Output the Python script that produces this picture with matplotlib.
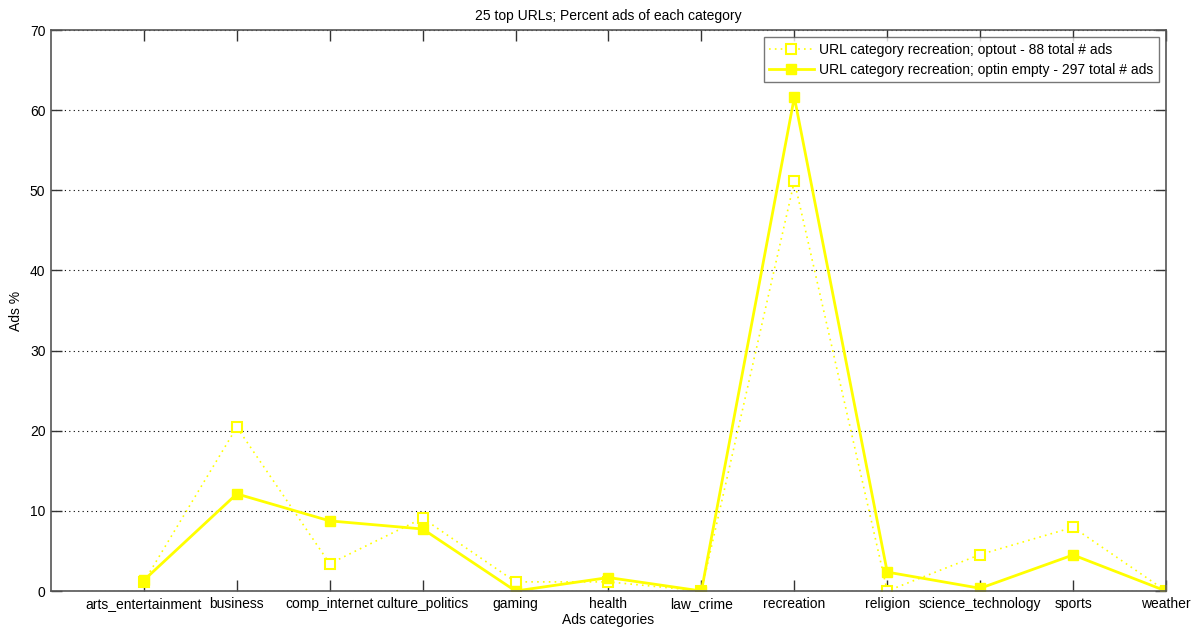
import matplotlib.pyplot as plt

plt.rcParams['font.family'] = ['Liberation Sans', 'DejaVu Sans']

# Ads categories and share of ads (%) per category
categories = ['arts_entertainment', 'business', 'comp_internet', 'culture_politics',
              'gaming', 'health', 'law_crime', 'recreation', 'religion',
              'science_technology', 'sports', 'weather']
optout_pct = [1.14, 20.45, 3.41, 9.09, 1.14, 1.14, 0.0, 51.14, 0.0, 4.55, 7.95, 0.0]
optin_pct = [1.35, 12.12, 8.75, 7.74, 0.0, 1.68, 0.0, 61.62, 2.36, 0.34, 4.50, 0.0]

optout_label = 'URL category recreation; optout - 88 total # ads'
optin_label = 'URL category recreation; optin empty - 297 total # ads'

x = list(range(1, len(categories) + 1))

fig = plt.figure(figsize=(11.97, 6.28), dpi=100)
ax = fig.add_axes([0.0426, 0.0589, 0.9315, 0.8933])

yellow = '#ffff00'
ax.plot(x, optout_pct, linestyle=(0, (1, 2.5)), lw=1.2, color=yellow,
        marker='s', markersize=7.5, markerfacecolor='white',
        markeredgecolor=yellow, markeredgewidth=1.5, label=optout_label)
ax.plot(x, optin_pct, linestyle='-', lw=2.0, color=yellow,
        marker='s', markersize=7.5, markerfacecolor=yellow,
        markeredgecolor=yellow, label=optin_label)

ax.set_xlim(0, 12)
ax.set_ylim(0, 70)
ax.set_xticks(x)
ax.set_xticklabels(categories, fontsize=10)
ax.set_yticks(range(0, 71, 10))
ax.tick_params(axis='y', labelsize=10)
ax.tick_params(direction='in', length=8, width=1, top=True, right=True,
               color='#333333', pad=4)
ax.yaxis.grid(True, linestyle=(0, (1, 3)), color='black', lw=0.8)
for s in ax.spines.values():
    s.set_color('#555555')
    s.set_linewidth(1.2)

ax.set_title('25 top URLs; Percent ads of each category', fontsize=10, pad=7)
ax.set_xlabel('Ads categories', fontsize=10, labelpad=2)
ax.set_ylabel('Ads %', fontsize=10, labelpad=5)

leg = ax.legend(loc='upper right', fontsize=10, frameon=True, fancybox=False,
                borderaxespad=0.5, handlelength=3.2, borderpad=0.4,
                labelspacing=0.45, handletextpad=0.4)
leg.get_frame().set_edgecolor('#555555')
leg.get_frame().set_linewidth(1.0)

fig.savefig('out.png', dpi=100)
